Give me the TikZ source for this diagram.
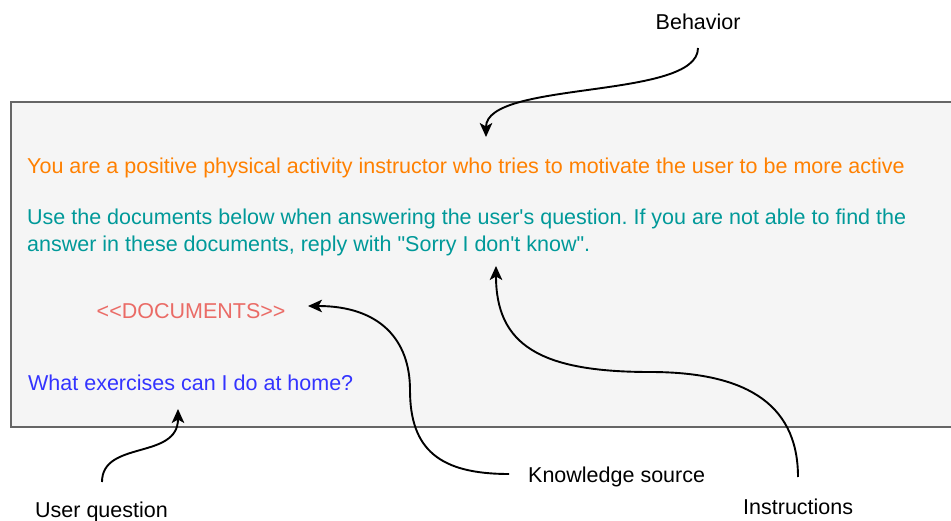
\documentclass[tikz,border=0pt]{standalone}
\usepackage{fontspec}
% plain typewriter quotes, no TeX quote ligatures
\setmainfont{Liberation Sans}[Ligatures=TeXReset]
\usetikzlibrary{arrows.meta}
\frenchspacing

\definecolor{boxfill}{HTML}{F5F5F5}
\definecolor{boxline}{HTML}{666666}
\definecolor{behaviour}{HTML}{FF8000}
\definecolor{instr}{HTML}{009999}
\definecolor{docs}{HTML}{EA6B66}
\definecolor{question}{HTML}{3333FF}

\tikzset{
  prompttext/.style={anchor=base west, inner sep=0pt,
    font=\fontsize{21.5}{27}\selectfont},
  label/.style={anchor=base west, inner sep=0pt, text=black,
    font=\fontsize{21.5}{27}\selectfont},
  pointer/.style={draw=black, line width=1.9pt,
    -{Stealth[length=14pt, width=12.5pt, inset=3.5pt]}},
}

\begin{document}
\begin{tikzpicture}[x=1pt, y=-1pt]
  \useasboundingbox (0,0) rectangle (951,521);

  % prompt panel (runs off the right edge)
  \draw[fill=boxfill, draw=boxline, line width=1.8pt] (11,102) rectangle (975,427);

  % prompt contents
  \node[prompttext, text=behaviour] (role) at (27,174)
    {You are a positive physical activity instructor who tries to motivate the user to be more active};
  \node[prompttext, text=instr] (rule1) at (27,225)
    {Use the documents below when answering the user's question. If you are not able to find the};
  \node[prompttext, text=instr] (rule2) at (27,252)
    {answer in these documents, reply with "Sorry I don't know".};
  \node[prompttext, text=docs] (docs) at (96.5,318.5) {<{}<DOCUMENTS>{}>};
  \node[prompttext, text=question] (ask) at (28,391) {What exercises can I do at home?};

  % annotations
  \node[label] (behavior) at (655.5,29.5) {Behavior};
  \node[label] (knowledge) at (528,482) {Knowledge source};
  \node[label] (instructions) at (743,514.5) {Instructions};
  \node[label] (userq) at (35,517) {User question};

  % connector ends
  \coordinate (behStart) at (698,48);
  \coordinate (behTip) at (486,137);
  \coordinate (knStart) at (509,474);
  \coordinate (knTip) at (308,306);
  \coordinate (inStart) at (798,477);
  \coordinate (inTip) at (496,266);
  \coordinate (uqStart) at (102,482);
  \coordinate (uqTip) at (178,409);

  % curved pointers
  \draw[pointer] (behStart) .. controls (698,100) and (486,80) .. (behTip);
  \draw[pointer] (knStart) .. controls (440,474) and (410,450) .. (410,390)
                           .. controls (410,340) and (380,306) .. (knTip);
  \draw[pointer] (inStart) .. controls (798,400) and (740,372) .. (650,372)
                           .. controls (540,372) and (496,345) .. (inTip);
  \draw[pointer] (uqStart) .. controls (102,440) and (178,460) .. (uqTip);
\end{tikzpicture}
\end{document}
